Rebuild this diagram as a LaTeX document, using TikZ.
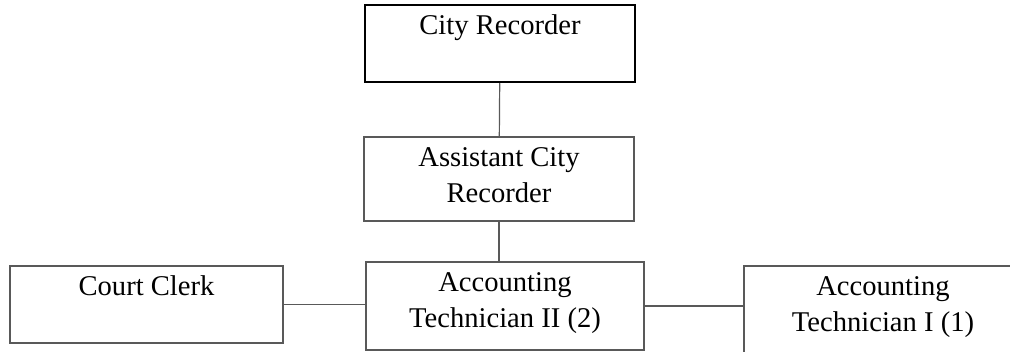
\documentclass[tikz,border=0pt]{standalone}
\usepackage{fontspec}
\setmainfont{Liberation Serif}
\usetikzlibrary{positioning}

\begin{document}
\begin{tikzpicture}[x=1pt, y=1pt,
    % --- Styles ---
    orgBox/.style={
      draw=black!65,
      line width=1.2pt,
      rectangle,
      inner sep=0pt,
      align=center,
      text height=30pt,
      font=\fontsize{28.6}{35.5}\selectfont
    },
    twoLine/.style={
      text height=65.5pt
    },
    headBox/.style={
      orgBox,
      draw=black,
      line width=2.5pt
    },
    orgLine/.style={
      draw=black!65,
      line width=1.2pt
    }
]
\useasboundingbox (0,0) rectangle (1010,351);
\clip (0,0) rectangle (1010,351);

%=====================
% Top: recorders
%=====================
\node[headBox, minimum width=270pt, text depth=47pt] (cityRec) at (500,307.5) {City Recorder};
\node[orgBox, twoLine, minimum width=270pt, text depth=18.5pt] (asstRec) at (499,172) {Assistant City\\Recorder};

%=====================
% Bottom row
%=====================
\node[orgBox, minimum width=273pt, text depth=47pt] (courtClerk) at (146.5,46.5) {Court Clerk};
\node[orgBox, twoLine, minimum width=278pt, text depth=22.5pt] (acctTechII) at (505,45) {Accounting\\Technician II (2)};
\node[orgBox, twoLine, minimum width=278pt, text depth=22.5pt] (acctTechI) at (883,41) {Accounting\\Technician I (1)};

\draw[orgLine] (cityRec) -- (asstRec);
\draw[orgLine] (asstRec.south) -- (asstRec.south |- acctTechII.north);
\draw[orgLine] (courtClerk.east) -- (courtClerk.east -| acctTechII.west);
\draw[orgLine] (acctTechII.east) -- (acctTechII.east -| acctTechI.west);

\end{tikzpicture}
\end{document}
